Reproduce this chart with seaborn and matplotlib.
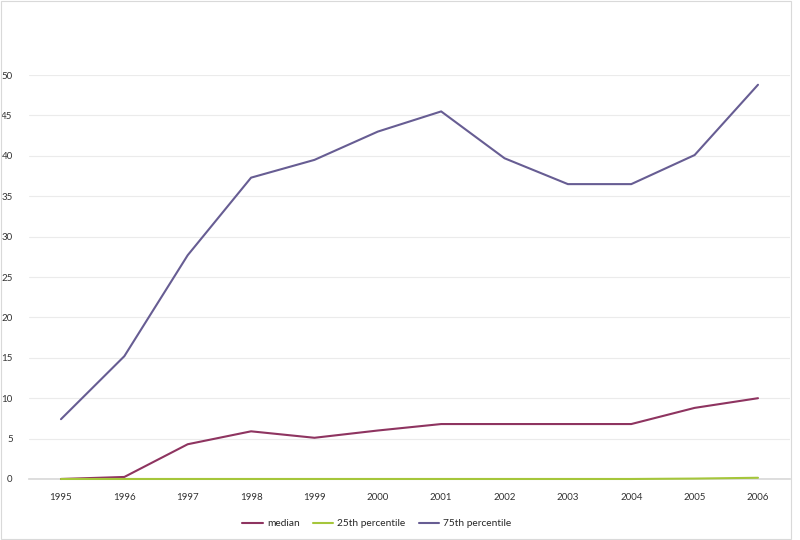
import matplotlib
matplotlib.use("Agg")
import matplotlib.pyplot as plt
import seaborn as sns
import pandas as pd

years = ["1995", "1996", "1997", "1998", "1999", "2000", "2001", "2002", "2003", "2004", "2005", "2006"]
median = [0.0, 0.25, 4.3, 5.9, 5.1, 6.0, 6.8, 6.8, 6.8, 6.8, 8.8, 10.0]
p25 = [0.0, 0.0, 0.0, 0.0, 0.0, 0.0, 0.0, 0.0, 0.0, 0.0, 0.05, 0.15]
p75 = [7.4, 15.2, 27.7, 37.3, 39.5, 43.0, 45.5, 39.7, 36.5, 36.5, 40.1, 48.8]
series_names = ["median", "25th percentile", "75th percentile"]
colors = ["#8E3460", "#A5C63B", "#675D93"]

rows = []
for name, vals in zip(series_names, [median, p25, p75]):
    for i, (y, v) in enumerate(zip(years, vals)):
        rows.append({"idx": i, "year": y, "value": v, "series": name})
df = pd.DataFrame(rows)

sns.set_theme(style="white")
plt.rcParams["font.family"] = ["Lato", "DejaVu Sans"]

fig = plt.figure(figsize=(8, 5.4), dpi=100)
ax = fig.add_axes([0.0366, 0.113, 0.9505, 0.748])
sns.lineplot(data=df, x="idx", y="value", hue="series", hue_order=series_names,
             palette=colors, linewidth=1.5, ax=ax, legend=True)
for ln in ax.lines:
    ln.set_clip_on(False)
    ln.set_zorder(5)

ax.set_xlim(-0.5, len(years) - 0.5)
ax.set_ylim(0, 50)
ax.set_xticks(range(len(years)))
ax.set_xticklabels(years)
ax.set_yticks(range(0, 51, 5))
ax.tick_params(axis="both", labelsize=7, colors="#333333", length=0, pad=10)
ax.tick_params(axis="y", pad=12)
ax.grid(axis="y", color="#EBEBEB", linewidth=0.8)
ax.set_axisbelow(True)
for s in ["top", "right", "left"]:
    ax.spines[s].set_visible(False)
ax.spines["bottom"].set_color("#D9D9D9")
ax.spines["bottom"].set_zorder(1)
ax.set_xlabel("")
ax.set_ylabel("")

h, l = ax.get_legend_handles_labels()
ax.legend_.remove()
fig.legend(h, l, loc="center", bbox_to_anchor=(0.471, 0.03), ncol=3, frameon=False,
           fontsize=7.3, handlelength=2.0, columnspacing=1.3, handletextpad=0.4)

border = plt.Rectangle((0.001, 0.001), 0.988, 0.997, transform=fig.transFigure,
                       fill=False, edgecolor="#D9D9D9", linewidth=0.8)
fig.add_artist(border)

fig.savefig("out.png", dpi=100)
